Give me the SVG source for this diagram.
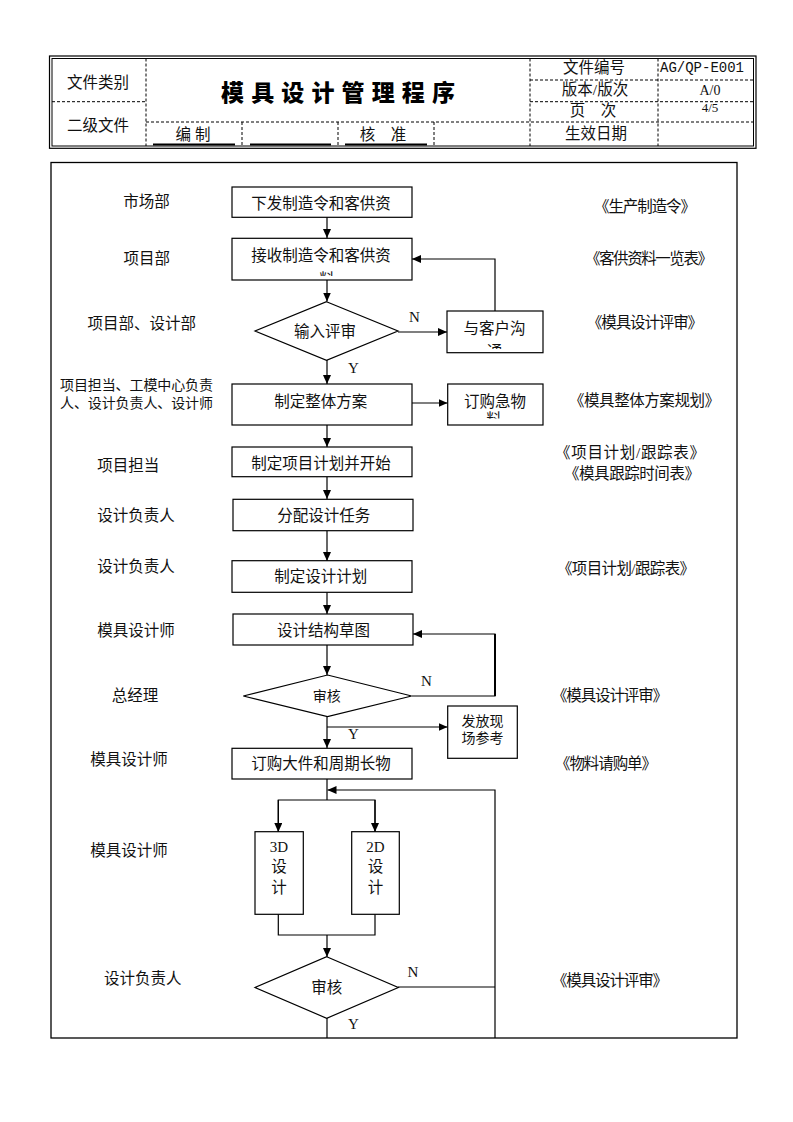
<svg xmlns="http://www.w3.org/2000/svg" width="793" height="1122" viewBox="0 0 793 1122">
<style>
.t{font-family:"Liberation Serif","Noto Sans CJK SC",serif;font-size:15.5px;fill:#111;dominant-baseline:central}
.m{text-anchor:middle}
.s{font-size:14px}
.lat{font-family:"Liberation Serif","Noto Sans CJK SC",serif;font-size:15px;fill:#111;dominant-baseline:central}
.box{fill:#fff;stroke:#000;stroke-width:1.2}
.ln{fill:none;stroke:#000;stroke-width:1.2}
.dash{fill:none;stroke:#000;stroke-width:1;stroke-dasharray:3 2}
.und{stroke:#000;stroke-width:2}
</style>
<defs>
<marker id="ah" markerUnits="userSpaceOnUse" markerWidth="9" markerHeight="8" refX="9" refY="4" orient="auto">
<path d="M0,0 L9,4 L0,8 z" fill="#000"/>
</marker>
<clipPath id="c2"><rect x="232" y="238" width="180" height="38"/></clipPath>
<clipPath id="c4"><rect x="447" y="311" width="96" height="38"/></clipPath>
<clipPath id="c6"><rect x="447" y="384" width="96" height="34.5"/></clipPath>
</defs>
<rect width="793" height="1122" fill="#fff"/>

<g id="header">
<rect x="49.5" y="56" width="706.5" height="92.3" fill="none" stroke="#000" stroke-width="1.2"/>
<rect x="52" y="58.5" width="701.5" height="87.5" fill="none" stroke="#000" stroke-width="1"/>
<line class="dash" x1="146" y1="58.5" x2="146" y2="146"/>
<line class="dash" x1="530" y1="58.5" x2="530" y2="146"/>
<line class="dash" x1="658" y1="58.5" x2="658" y2="146"/>
<line class="dash" x1="52" y1="101.7" x2="146" y2="101.7"/>
<line class="dash" x1="530" y1="80" x2="753.5" y2="80"/>
<line class="dash" x1="530" y1="101.7" x2="753.5" y2="101.7"/>
<line class="dash" x1="146" y1="122" x2="753.5" y2="122"/>
<line class="dash" x1="242" y1="122" x2="242" y2="146"/>
<line class="dash" x1="338" y1="122" x2="338" y2="146"/>
<line class="dash" x1="434" y1="122" x2="434" y2="146"/>
<line class="und" x1="153" y1="144.5" x2="235" y2="144.5"/>
<line class="und" x1="250" y1="144.5" x2="331" y2="144.5"/>
<line class="und" x1="345" y1="144.5" x2="427" y2="144.5"/>
<text class="t m" x="98" y="82.5">文件类别</text>
<text class="t m" x="98" y="125.5">二级文件</text>
<text x="221" y="90.5" textLength="234" lengthAdjust="spacing" style="font-family:'Noto Sans CJK SC',sans-serif;font-weight:900;font-size:23px;fill:#000;dominant-baseline:central">模具设计管理程序</text>
<text class="t m" x="193" y="134">编 制</text>
<text class="t m" x="383" y="134">核　准</text>
<text class="t m" x="594" y="67">文件编号</text>
<text x="660" y="68" textLength="84" lengthAdjust="spacingAndGlyphs" style="font-family:'Liberation Mono',monospace;font-size:15px;fill:#111;dominant-baseline:central">AG/QP-E001</text>
<text class="t m" x="595" y="89">版本/版次</text>
<text class="lat m" x="710" y="90.5" style="font-size:14px">A/0</text>
<text class="t m" x="593" y="110">页　次</text>
<text class="lat m" x="710" y="107" style="font-size:13px">4/5</text>
<text class="t m" x="596" y="133.5">生效日期</text>
</g>

<g id="frame">
<rect x="51" y="162.5" width="686" height="875.5" fill="none" stroke="#000" stroke-width="1.3"/>
</g>

<g id="connectors">
<line class="ln" x1="327" y1="217" x2="327" y2="238" marker-end="url(#ah)"/>
<line class="ln" x1="327" y1="280" x2="327" y2="301.5" marker-end="url(#ah)"/>
<line class="ln" x1="398" y1="332" x2="447" y2="332" marker-end="url(#ah)"/>
<polyline class="ln" points="495,311 495,259 412,259" marker-end="url(#ah)"/>
<line class="ln" x1="327" y1="360" x2="327" y2="384" marker-end="url(#ah)"/>
<line class="ln" x1="412" y1="403" x2="447.5" y2="403" marker-end="url(#ah)"/>
<line class="ln" x1="327" y1="425" x2="327" y2="447" marker-end="url(#ah)"/>
<line class="ln" x1="327" y1="477" x2="327" y2="499" marker-end="url(#ah)"/>
<line class="ln" x1="327" y1="531" x2="327" y2="561" marker-end="url(#ah)"/>
<line class="ln" x1="327" y1="592" x2="327" y2="614" marker-end="url(#ah)"/>
<line class="ln" x1="327" y1="645" x2="327" y2="675" marker-end="url(#ah)"/>
<polyline class="ln" points="412,696 495,696 495,634 413,634" marker-end="url(#ah)"/>
<line x1="495" y1="634" x2="495" y2="696" stroke="#000" stroke-width="2"/>
<line class="ln" x1="327" y1="717" x2="327" y2="748" marker-end="url(#ah)"/>
<line class="ln" x1="327" y1="727" x2="447.5" y2="727" marker-end="url(#ah)"/>
<line class="ln" x1="327" y1="779" x2="327" y2="800"/>
<polyline class="ln" points="278.3,832 278.3,800 375,800 375,832" />
<line class="ln" x1="278.3" y1="800" x2="278.3" y2="832" marker-end="url(#ah)"/>
<line class="ln" x1="375" y1="800" x2="375" y2="832" marker-end="url(#ah)"/>
<polyline class="ln" points="278.3,914 278.3,935 375,935 375,914"/>
<line class="ln" x1="327" y1="935" x2="327" y2="957" marker-end="url(#ah)"/>
<line class="ln" x1="398" y1="987" x2="495" y2="987"/>
<polyline class="ln" points="495,1038 495,790 327.5,790" marker-end="url(#ah)"/>
<line class="ln" x1="327" y1="1018" x2="327" y2="1038"/>
<text class="lat" x="409" y="317">N</text>
<text class="lat" x="348" y="368">Y</text>
<text class="lat" x="421" y="681">N</text>
<text class="lat" x="348" y="733.5">Y</text>
<text class="lat" x="407.5" y="972">N</text>
<text class="lat" x="348" y="1024">Y</text>
</g>

<g id="n1"><rect class="box" x="232" y="187" width="180" height="30.3"/><text class="t m" x="321" y="203">下发制造令和客供资</text></g>
<g id="n2"><rect class="box" x="232" y="238.3" width="180" height="41.7"/><text class="t m" x="321" y="255">接收制造令和客供资</text><text class="t m" x="327" y="279.5" clip-path="url(#c2)">料</text></g>
<g id="n3"><polygon class="box" points="326.5,301.7 398,331 326.5,360.3 255,331"/><text class="t m" x="325" y="331.7">输入评审</text></g>
<g id="n4"><rect class="box" x="447" y="311" width="96" height="41.7"/><text class="t m" x="494.5" y="328">与客户沟</text><text class="t m" x="494.5" y="351" clip-path="url(#c4)">通</text></g>
<g id="n5"><rect class="box" x="232" y="384" width="180" height="41"/><text class="t m" x="320.7" y="401.7">制定整体方案</text></g>
<g id="n6"><rect class="box" x="447.7" y="384" width="95.3" height="41"/><text class="t m" x="495" y="401.7">订购急物</text><text class="t m" x="494" y="419.5" clip-path="url(#c6)">料</text></g>
<g id="n7"><rect class="box" x="232" y="447" width="180" height="29.7"/><text class="t m" x="321" y="463.3">制定项目计划并开始</text></g>
<g id="n8"><rect class="box" x="233" y="499.3" width="180" height="31.4"/><text class="t m" x="323.7" y="515">分配设计任务</text></g>
<g id="n9"><rect class="box" x="232" y="560.7" width="180" height="31.6"/><text class="t m" x="320.7" y="576.7">制定设计计划</text></g>
<g id="n10"><rect class="box" x="233" y="614" width="180" height="31"/><text class="t m" x="323.5" y="630">设计结构草图</text></g>
<g id="n11"><polygon class="box" points="327.5,675 411.7,696 327.5,716.7 243.3,696"/><text class="t m s" x="326.7" y="696.7">审核</text></g>
<g id="n12"><rect class="box" x="447.7" y="706" width="69.6" height="52.3"/><text class="t m s" x="482.5" y="721.7">发放现</text><text class="t m s" x="482.5" y="738.3">场参考</text></g>
<g id="n13"><rect class="box" x="232" y="748.3" width="180" height="30.7"/><text class="t m" x="321" y="763.3">订购大件和周期长物</text></g>
<g id="n14"><rect class="box" x="255" y="831.7" width="48.3" height="82.6"/><text class="lat m" x="279" y="846.7">3D</text><text class="t m" x="279" y="866">设</text><text class="t m" x="279" y="887.3">计</text></g>
<g id="n15"><rect class="box" x="351.7" y="831.7" width="47.6" height="82.6"/><text class="lat m" x="375.5" y="846.7">2D</text><text class="t m" x="375.5" y="866">设</text><text class="t m" x="375.5" y="887.3">计</text></g>
<g id="n16"><polygon class="box" points="326.7,956.7 398.3,987.5 326.7,1018.3 255,987.5"/><text class="t m" x="326.7" y="987.3">审核</text></g>

<g id="roles">
<text class="t m" x="146.5" y="201.7">市场部</text>
<text class="t m" x="146.7" y="258">项目部</text>
<text class="t m" x="141.7" y="323">项目部、设计部</text>
<text class="t s" x="60" y="385" textLength="153" lengthAdjust="spacing">项目担当、工模中心负责</text>
<text class="t s" x="60" y="403" textLength="153" lengthAdjust="spacing">人、设计负责人、设计师</text>
<text class="t m" x="128.3" y="465">项目担当</text>
<text class="t m" x="136" y="515">设计负责人</text>
<text class="t m" x="136" y="566.7">设计负责人</text>
<text class="t m" x="136" y="630">模具设计师</text>
<text class="t m" x="135" y="695">总经理</text>
<text class="t m" x="129" y="759">模具设计师</text>
<text class="t m" x="129" y="850">模具设计师</text>
<text class="t m" x="142.7" y="978">设计负责人</text>
</g>

<g id="records">
<text class="t" x="594" y="206.7" textLength="102" lengthAdjust="spacing">《生产制造令》</text>
<text class="t" x="585" y="258.3" textLength="128" lengthAdjust="spacing">《客供资料一览表》</text>
<text class="t" x="587" y="322" textLength="116" lengthAdjust="spacing">《模具设计评审》</text>
<text class="t" x="569" y="400" textLength="151" lengthAdjust="spacing">《模具整体方案规划》</text>
<text class="t" x="555" y="452" textLength="150" lengthAdjust="spacing">《项目计划/跟踪表》</text>
<text class="t" x="564" y="473" textLength="136" lengthAdjust="spacing">《模具跟踪时间表》</text>
<text class="t" x="557" y="568.3" textLength="138" lengthAdjust="spacing">《项目计划/跟踪表》</text>
<text class="t" x="552" y="695" textLength="116" lengthAdjust="spacing">《模具设计评审》</text>
<text class="t" x="555" y="763.3" textLength="102" lengthAdjust="spacing">《物料请购单》</text>
<text class="t" x="552" y="980" textLength="116" lengthAdjust="spacing">《模具设计评审》</text>
</g>
</svg>
